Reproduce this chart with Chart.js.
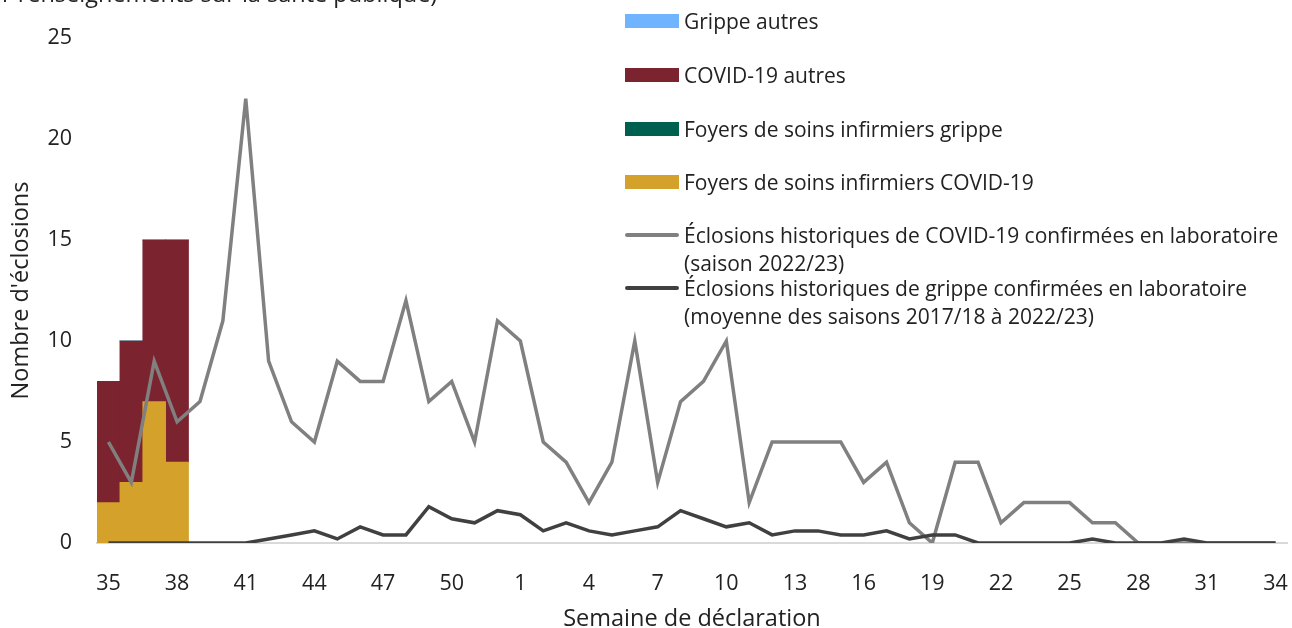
<!DOCTYPE html>
<html lang="fr">
<head>
<meta charset="utf-8">
<script src="https://cdn.jsdelivr.net/npm/chart.js@4.4.0/dist/chart.umd.min.js"></script>
<style>
  body { margin: 0; background: #fff; font-family: "Open Sans", sans-serif; }
  #wrap { position: relative; width: 1292px; height: 628px; overflow: hidden; }
  #topline { position: absolute; left: -41px; top: -21px; font-size: 23.5px; line-height: 28px; color: #222; white-space: nowrap; }
  #legend { position: absolute; left: 0; top: 0; }
  .item { position: absolute; left: 625px; font-size: 21px; line-height: 28px; color: #222; white-space: nowrap; }
  .item .mark { position: absolute; left: 0; width: 54px; }
  .item .txt { position: absolute; left: 59px; }
</style>
</head>
<body>
<div id="wrap">
  <canvas id="eclosions"></canvas>
  <div id="topline">pour renseignements sur la santé publique)</div>
  <div id="legend"></div>
</div>
<script>
// semaines de déclaration (saison 35 -> 34)
const semaines = [35, 36, 37, 38, 39, 40, 41, 42, 43, 44, 45, 46, 47, 48, 49, 50, 51, 52,
  1, 2, 3, 4, 5, 6, 7, 8, 9, 10, 11, 12, 13, 14, 15, 16, 17, 18, 19, 20, 21, 22, 23, 24, 25, 26, 27, 28, 29, 30, 31, 32, 33, 34];

// barres (seulement les 4 premières semaines ont des données)
const foyersCovid = [2, 3, 7, 4];
const covidAutres = [6, 7, 8, 11];
const foyersGrippe = [0, 0, 0, 0];
const grippeAutres = [0, 0, 0, 0];

// lignes historiques
const covidHist = [5, 3, 9, 6, 7, 11, 22, 9, 6, 5, 9, 8, 8, 12, 7, 8, 5, 11,
  10, 5, 4, 2, 4, 10, 3, 7, 8, 10, 2, 5, 5, 5, 5, 3, 4, 1, 0, 4, 4, 1, 2, 2, 2, 1, 1, 0, 0, 0, 0, 0, 0, 0];
const grippeHist = [0, 0, 0, 0, 0, 0, 0, 0.2, 0.4, 0.6, 0.2, 0.8, 0.4, 0.4, 1.8, 1.2, 1.0, 1.6,
  1.4, 0.6, 1.0, 0.6, 0.4, 0.6, 0.8, 1.6, 1.2, 0.8, 1.0, 0.4, 0.6, 0.6, 0.4, 0.4, 0.6, 0.2, 0.4, 0.4, 0, 0, 0, 0, 0, 0.2, 0, 0, 0, 0.2, 0, 0, 0, 0];

const yTicks = [0, 5, 10, 15, 20, 25];

const textColor = '#222';

new Chart('eclosions', {
  type: 'bar',
  data: {
    labels: semaines,
    datasets: [
      {
        type: 'line', label: 'Éclosions historiques de grippe confirmées en laboratoire (moyenne des saisons 2017/18 à 2022/23)',
        data: grippeHist, borderColor: '#404040', borderWidth: 3.5, pointRadius: 0, stack: 'l2', order: 0
      },
      {
        type: 'line', label: 'Éclosions historiques de COVID-19 confirmées en laboratoire (saison 2022/23)',
        data: covidHist, borderColor: '#808080', borderWidth: 3.5, pointRadius: 0, stack: 'l1', order: 1
      },
      { label: 'Foyers de soins infirmiers COVID-19', data: foyersCovid, backgroundColor: '#d4a22a', stack: 'b', order: 2 },
      { label: 'COVID-19 autres', data: covidAutres, backgroundColor: '#7b2430', stack: 'b', order: 2 },
      { label: 'Foyers de soins infirmiers grippe', data: foyersGrippe, backgroundColor: '#00604f', stack: 'b', order: 2 },
      { label: 'Grippe autres', data: grippeAutres, backgroundColor: '#70b3ff', stack: 'b', order: 2 }
    ]
  },
  options: {
    responsive: true,
    maintainAspectRatio: false,
    animation: false,
    datasets: { bar: { categoryPercentage: 1, barPercentage: 1 } },
    layout: { padding: { top: 38, right: 5, left: 0, bottom: 0 } },
    plugins: { legend: { display: false }, tooltip: { enabled: false } },
    scales: {
      x: {
        stacked: true,
        grid: { display: false, drawTicks: false },
        border: { display: true, color: '#d9d9d9', width: 2 },
        ticks: {
          autoSkip: false, maxRotation: 0, padding: 28, color: textColor,
          font: { family: 'Open Sans', size: 21.5 },
          callback: (v, i) => (i % 3 === 0 ? semaines[i] : '')
        },
        title: {
          display: true, text: 'Semaine de déclaration', color: textColor,
          font: { family: 'Open Sans', size: 23.5, lineHeight: 1 }, padding: { top: 0, bottom: -3 }
        },
        afterFit: (scale) => { scale.height = 85; scale.paddingLeft = 0; scale.paddingRight = 0; }
      },
      y: {
        stacked: true,
        min: 0, max: 25,
        grid: { display: false, drawTicks: false },
        border: { display: false },
        afterBuildTicks: (scale) => { scale.ticks = yTicks.map(v => ({ value: v })); },
        ticks: { padding: 25, color: textColor, font: { family: 'Open Sans', size: 21.5 } },
        title: {
          display: true, text: "Nombre d'éclosions", color: textColor,
          font: { family: 'Open Sans', size: 23.5 }, padding: { top: 7, bottom: 0 }
        },
        afterFit: (scale) => { scale.width = 97; }
      }
    }
  }
});

// légende HTML (ordre de la légende d'origine)
const legendItems = [
  { text: 'Grippe autres', color: '#70b3ff', kind: 'box', top: 7 },
  { text: 'COVID-19 autres', color: '#7b2430', kind: 'box', top: 61 },
  { text: 'Foyers de soins infirmiers grippe', color: '#00604f', kind: 'box', top: 115 },
  { text: 'Foyers de soins infirmiers COVID-19', color: '#d4a22a', kind: 'box', top: 168 },
  { text: 'Éclosions historiques de COVID-19 confirmées en laboratoire<br>(saison 2022/23)', color: '#808080', kind: 'line', top: 221 },
  { text: 'Éclosions historiques de grippe confirmées en laboratoire<br>(moyenne des saisons 2017/18 à 2022/23)', color: '#404040', kind: 'line', top: 274 }
];
const legend = document.getElementById('legend');
legendItems.forEach(it => {
  const d = document.createElement('div');
  d.className = 'item';
  d.style.top = it.top + 'px';
  const m = document.createElement('span');
  m.className = 'mark';
  m.style.background = it.color;
  if (it.kind === 'box') { m.style.top = '7px'; m.style.height = '14px'; }
  else { m.style.top = '12px'; m.style.height = '4px'; m.style.borderRadius = '2px'; }
  const t = document.createElement('span');
  t.className = 'txt';
  t.innerHTML = it.text;
  d.appendChild(m);
  d.appendChild(t);
  legend.appendChild(d);
});
</script>
</body>
</html>
